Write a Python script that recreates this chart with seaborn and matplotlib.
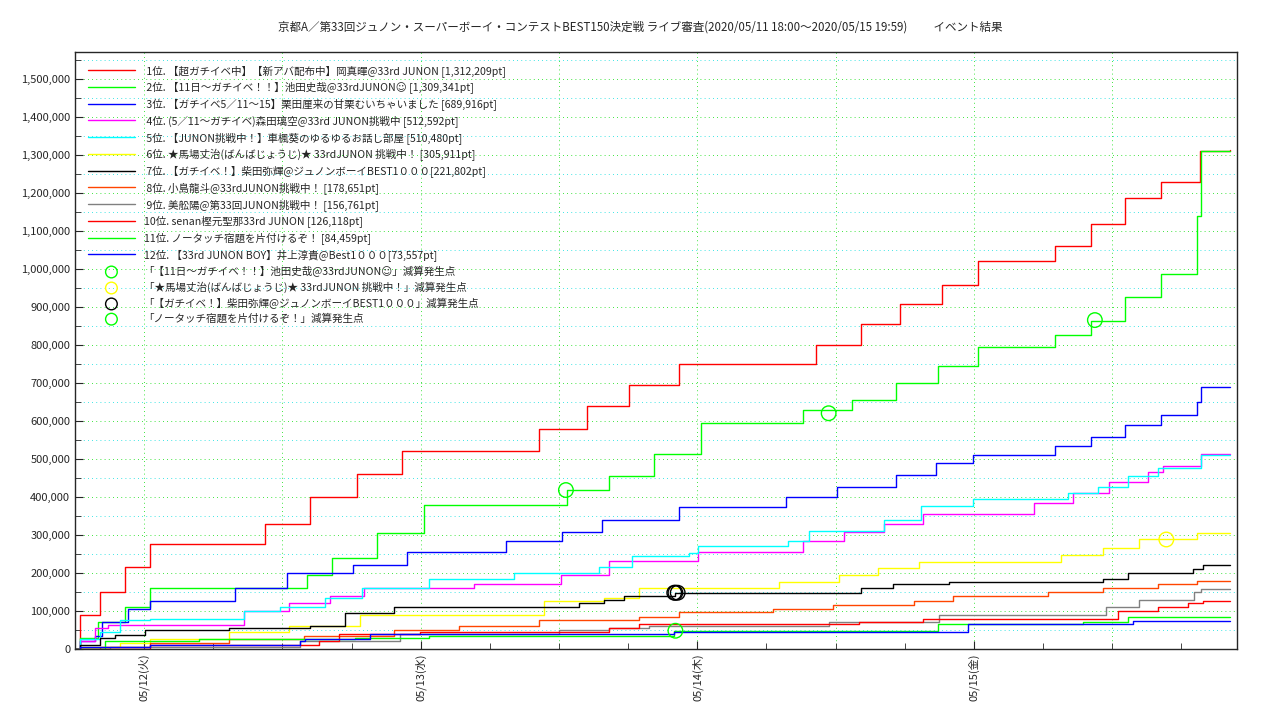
import numpy as np
import pandas as pd
import matplotlib
matplotlib.use("Agg")
import matplotlib.pyplot as plt
import matplotlib.dates as mdates
from matplotlib.ticker import FuncFormatter, MultipleLocator
import seaborn as sns

sns.set_style("ticks")
plt.rcParams['font.family'] = ['Noto Sans CJK JP', 'DejaVu Sans']

start = pd.Timestamp("2020-05-11 18:00")

names = [
    " 1位. 【超ガチイベ中】【新アバ配布中】岡真暉@33rd JUNON [1,312,209pt]",
    " 2位. 【11日〜ガチイベ！！】池田史哉@33rdJUNON☺ [1,309,341pt]",
    " 3位. 【ガチイベ5／11〜15】栗田厘来の甘栗むいちゃいました [689,916pt]",
    " 4位. (5／11〜ガチイベ)森田璃空@33rd JUNON挑戦中 [512,592pt]",
    " 5位. 【JUNON挑戦中！】車楓葵のゆるゆるお話し部屋 [510,480pt]",
    " 6位. ★馬場丈治(ばんばじょうじ)★ 33rdJUNON 挑戦中！ [305,911pt]",
    " 7位. 【ガチイベ！】柴田弥輝@ジュノンボーイBEST1０００[221,802pt]",
    " 8位. 小島龍斗@33rdJUNON挑戦中！ [178,651pt]",
    " 9位. 美舩陽@第33回JUNON挑戦中！ [156,761pt]",
    "10位. senan樫元聖那33rd JUNON [126,118pt]",
    "11位. ノータッチ宿題を片付けるぞ！ [84,459pt]",
    "12位. 【33rd JUNON BOY】井上淳貴@Best1０００[73,557pt]",
]
colors = ["#ff0000", "#00ff00", "#0000ff", "#ff00ff", "#00ffff", "#ffff00",
          "#000000", "#ff4500", "#808080", "#ff0000", "#00ff00", "#0000ff"]

# hours since 05/11 18:00, points in thousands
hours = [
    [0, 0.4, 2.2, 4.3, 6.5, 16.5, 20.4, 24.5, 28.4, 40.3, 44.4, 48.1, 52.4, 64.3, 68.2, 71.6, 75.2, 78.4, 85.0, 88.2, 91.1, 94.2, 97.6, 100.2],
    [0, 0.4, 2.0, 4.3, 6.5, 20.1, 22.3, 26.2, 30.3, 42.7, 46.3, 50.2, 54.3, 63.2, 67.4, 71.2, 74.9, 78.4, 85.0, 88.2, 91.1, 94.2, 97.4, 97.7, 100.2],
    [0, 0.4, 1.7, 2.3, 4.6, 6.5, 13.9, 18.4, 24.1, 28.8, 37.4, 42.3, 45.7, 52.4, 61.7, 66.1, 71.2, 74.7, 77.9, 85.0, 88.2, 91.1, 94.2, 97.4, 97.7, 100.2],
    [0, 0.4, 1.7, 2.9, 14.7, 18.6, 22.1, 25.1, 34.6, 42.2, 46.3, 54.1, 63.2, 66.7, 70.2, 73.6, 83.2, 86.6, 89.7, 93.1, 94.4, 97.7, 100.2],
    [0, 0.4, 2.2, 3.9, 6.5, 14.7, 17.8, 21.7, 24.9, 30.7, 38.1, 45.5, 48.3, 53.3, 54.1, 61.9, 63.7, 70.2, 73.4, 77.9, 86.2, 88.8, 91.4, 94.0, 97.7, 100.2],
    [0, 0.4, 3.9, 6.5, 13.4, 18.6, 24.7, 40.7, 45.9, 48.9, 61.1, 66.3, 69.7, 73.2, 85.6, 89.2, 92.3, 97.4, 100.2],
    [0, 0.4, 2.2, 3.5, 6.1, 13.4, 20.4, 23.4, 27.7, 43.7, 45.9, 47.6, 52.1, 68.2, 71.0, 75.8, 89.2, 91.4, 97.0, 97.9, 100.2],
    [0, 2.2, 6.5, 13.4, 19.9, 27.7, 33.3, 40.3, 48.9, 52.4, 60.6, 65.8, 72.8, 76.2, 84.4, 89.2, 94.0, 97.4, 100.2],
    [0, 3.0, 19.5, 28.2, 42.0, 46.3, 49.8, 65.4, 75.0, 89.5, 92.3, 97.1, 97.7, 100.2],
    [0, 6.5, 21.2, 22.9, 29.9, 46.3, 48.9, 68.0, 73.6, 90.5, 94.0, 96.6, 97.9, 100.2],
    [0, 2.6, 10.8, 24.3, 30.7, 52.0, 74.9, 87.5, 91.4, 100.2],
    [0, 0.4, 6.5, 19.5, 20.0, 25.6, 52.0, 77.5, 91.8, 100.2],
]
values = [
    [0, 90, 150, 215, 275, 330, 400, 460, 520, 578, 640, 693, 750, 800, 855, 907, 958, 1020, 1060, 1118, 1185, 1228, 1310, 1312.2],
    [0, 30, 70, 110, 160, 195, 240, 305, 380, 418, 455, 512, 595, 628, 655, 700, 745, 795, 825, 863, 925, 985, 1140, 1309.3, 1309.3],
    [0, 20, 35, 70, 105, 125, 160, 200, 222, 255, 283, 308, 338, 373, 400, 425, 457, 488, 510, 535, 558, 590, 615, 650, 689.9, 689.9],
    [0, 20, 55, 62, 100, 120, 140, 160, 172, 195, 232, 255, 285, 307, 330, 355, 385, 410, 440, 465, 480, 512.6, 512.6],
    [0, 25, 45, 75, 80, 100, 110, 135, 160, 185, 200, 215, 245, 252, 272, 285, 310, 340, 375, 395, 410, 425, 455, 475, 510.5, 510.5],
    [0, 5, 15, 25, 45, 60, 90, 125, 135, 160, 175, 195, 212, 230, 248, 265, 290, 305.9, 305.9],
    [0, 10, 30, 37, 50, 55, 60, 95, 110, 120, 130, 140, 148, 160, 170, 175, 185, 200, 210, 221.8, 221.8],
    [0, 5, 15, 25, 35, 50, 60, 75, 85, 97, 105, 115, 125, 140, 150, 160, 170, 178.7, 178.7],
    [0, 5, 20, 40, 50, 55, 60, 70, 90, 110, 130, 150, 156.8, 156.8],
    [0, 10, 20, 40, 45, 55, 65, 70, 80, 100, 110, 120, 126.1, 126.1],
    [0, 20, 25, 30, 35, 48, 65, 70, 84.5, 84.5],
    [0, 5, 10, 20, 25, 40, 45, 65, 73.6, 73.6],
]

# deduction points
mark_labels = [
    "「【11日〜ガチイベ！！】池田史哉@33rdJUNON☺」減算発生点",
    "「★馬場丈治(ばんばじょうじ)★ 33rdJUNON 挑戦中！」減算発生点",
    "「【ガチイベ！】柴田弥輝@ジュノンボーイBEST1０００」減算発生点",
    "「ノータッチ宿題を片付けるぞ！」減算発生点",
]
mark_colors = ["#00ff00", "#ffff00", "#000000", "#00ff00"]
mark_hours = [[42.6, 65.4, 88.5], [94.7], [52.0, 52.1, 52.3], [52.1]]
mark_values = [[418, 620, 865], [288], [148, 148, 148], [48]]

fig = plt.figure(figsize=(12.8, 7.2), dpi=100)
ax = fig.add_axes([75 / 1280, 1 - 649 / 720, (1237 - 75) / 1280, (649 - 52) / 720])

for name, c, h, v in zip(names, colors, hours, values):
    df = pd.DataFrame({"t": start + pd.to_timedelta(h, unit="h"), "v": np.array(v) * 1000})
    sns.lineplot(data=df, x="t", y="v", ax=ax, color=c, lw=1, label=name,
                 drawstyle="steps-post", estimator=None)

for lab, c, h, v in zip(mark_labels, mark_colors, mark_hours, mark_values):
    ax.scatter(start + pd.to_timedelta(h, unit="h"), np.array(v) * 1000, s=110,
               facecolors="none", edgecolors=c, lw=1, label=lab, zorder=5)

end = pd.Timestamp("2020-05-15 22:50")
ax.set_xlim(start, end)
ax.set_ylim(0, 1570000)
ax.yaxis.set_major_locator(MultipleLocator(100000))
ax.yaxis.set_minor_locator(MultipleLocator(50000))
ax.yaxis.set_major_formatter(FuncFormatter(lambda v, p: f"{int(v):,}"))
ax.xaxis.set_major_locator(mdates.DayLocator())
ax.xaxis.set_minor_locator(mdates.HourLocator(byhour=[6, 12, 18]))
wd = ["月", "火", "水", "木", "金", "土", "日"]
ax.xaxis.set_major_formatter(FuncFormatter(
    lambda v, p: mdates.num2date(v).strftime("%m/%d") + f"({wd[mdates.num2date(v).weekday()]})"))
plt.setp(ax.get_xticklabels(), rotation=90)
ax.tick_params(axis="both", which="both", direction="in", labelsize=8)
ax.tick_params(which="major", length=6)
ax.tick_params(which="minor", length=4)
ax.yaxis.grid(True, which="major", color="#00dd00", ls=(0, (1, 4)), lw=0.6)
ax.yaxis.grid(True, which="minor", color="#00dddd", ls=(0, (1, 4)), lw=0.6)
for t in pd.date_range("2020-05-12 00:00", end, freq="12h"):
    ax.axvline(t, color="#00dd00", ls=(0, (1, 4)), lw=0.6, zorder=0)
ax.set_xlabel("")
ax.set_ylabel("")
for s in ax.spines.values():
    s.set_linewidth(1)

ax.legend(loc="upper left", frameon=False, fontsize=7.6, handlelength=4.5,
          labelspacing=0.45, borderaxespad=0.8, markerscale=0.8)
fig.text(0.5, 1 - 27 / 720,
         "京都A／第33回ジュノン・スーパーボーイ・コンテストBEST150決定戦 ライブ審査(2020/05/11 18:00〜2020/05/15 19:59)          イベント結果",
         ha="center", va="center", fontsize=8.3)

fig.savefig("out.png", dpi=100)
